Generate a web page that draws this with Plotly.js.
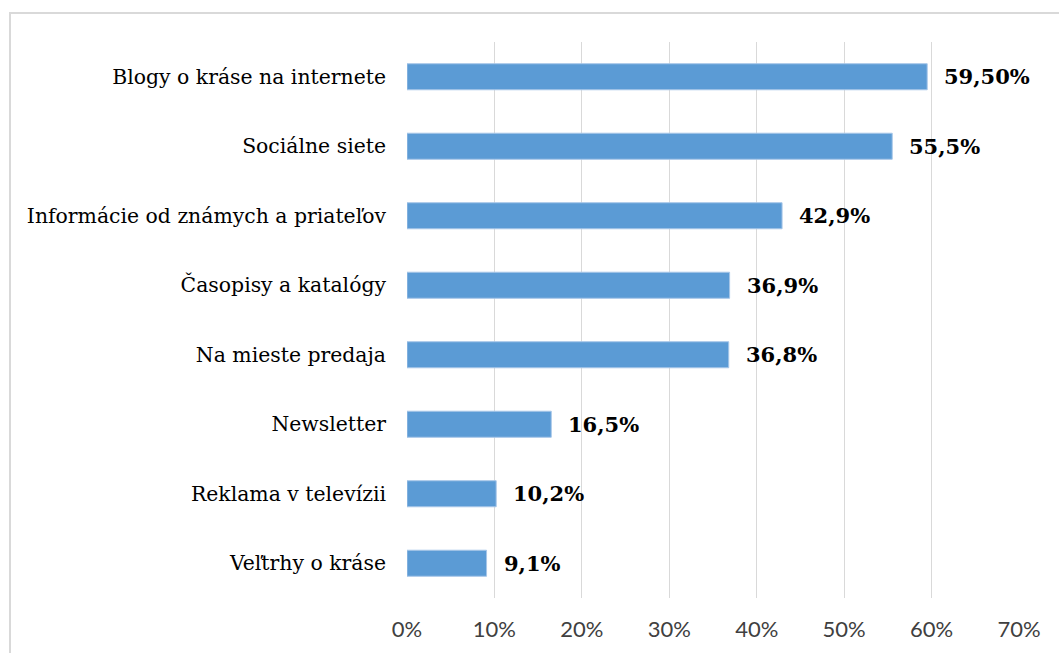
<!DOCTYPE html>
<html><head><meta charset="utf-8">
<script src="https://cdn.plot.ly/plotly-3.0.1.min.js"></script>
<style>
html,body{margin:0;padding:0;background:#fff;}
#frame{position:absolute;left:9px;top:12px;width:1100px;height:700px;border-top:2px solid #d9d9d9;border-left:2px solid #d9d9d9;pointer-events:none;}
#chart{width:1059px;height:653px;}
</style></head>
<body>
<div id="chart"></div>
<div id="frame"></div>
<script>
const categories = ["Blogy o kráse na internete","Sociálne siete","Informácie od známych a priateľov","Časopisy a katalógy","Na mieste predaja","Newsletter","Reklama v televízii","Veľtrhy o kráse"];
const values = [59.5, 55.5, 42.9, 36.9, 36.8, 16.5, 10.2, 9.1];
const valueLabels = ["59,50%","55,5%","42,9%","36,9%","36,8%","16,5%","10,2%","9,1%"];
const tickVals = [0,10,20,30,40,50,60,70];
const tickText = ["0%","10%","20%","30%","40%","50%","60%","70%"];

const trace = {
  type:'bar', orientation:'h',
  x: values, y: categories,
  marker:{color:'#5b9bd5', line:{color:'#a7c6e8', width:1}},
  width:0.375, hoverinfo:'skip'
};
const annotations = values.map((v,i)=>({
  x:v, y:categories[i], xref:'x', yref:'y', text:valueLabels[i],
  showarrow:false, xanchor:'left', xshift:15,
  font:{family:'"DejaVu Serif", serif', size:21, color:'#000', weight:'bold'}
}));
const layout = {
  width:1059, height:653,
  margin:{l:407, r:40, t:42, b:55},
  paper_bgcolor:'#fff', plot_bgcolor:'#fff',
  showlegend:false,
  xaxis:{range:[0,70], tickvals:tickVals, ticktext:tickText, showgrid:true, gridcolor:'#d9d9d9', gridwidth:1,
    zeroline:false, showline:false, ticks:'', ticklen:0, ticklabelstandoff:16,
    tickfont:{family:'Lato, "Open Sans", sans-serif', size:22, color:'#404040'}, fixedrange:true},
  yaxis:{categoryorder:'array', categoryarray:categories.slice().reverse(), autorange:true,
    showgrid:false, zeroline:false, showline:false, ticks:'',
    ticklabelstandoff:20,
    tickfont:{family:'"DejaVu Serif", serif', size:20.4, color:'#000'}},
  annotations: annotations
};
Plotly.newPlot('chart',[trace],layout,{displayModeBar:false,staticPlot:true});
</script>
</body></html>
